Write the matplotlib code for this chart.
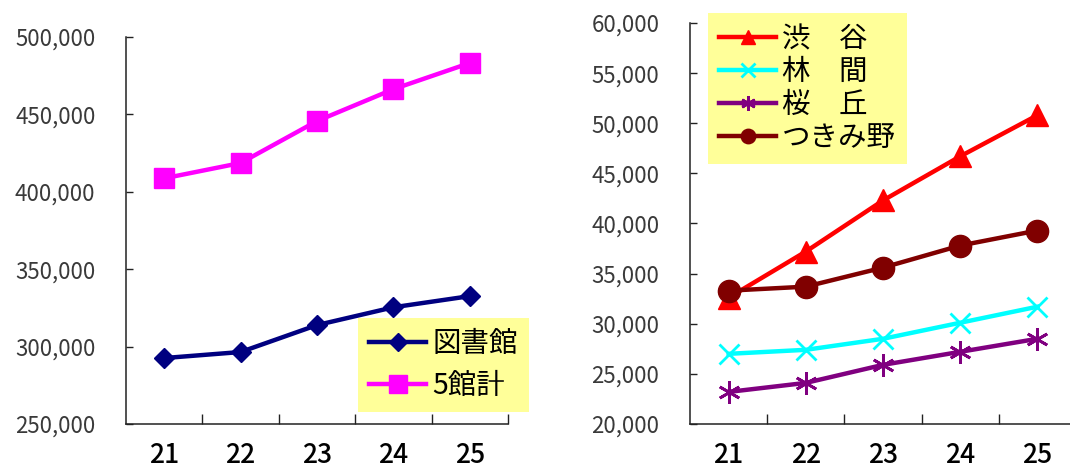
import matplotlib
matplotlib.use("Agg")
import matplotlib.pyplot as plt
from matplotlib.ticker import FixedLocator, StrMethodFormatter

plt.rcParams["font.family"] = ["Noto Sans CJK JP", "DejaVu Sans"]

years = ["21", "22", "23", "24", "25"]

# left chart
library = [292600, 296500, 313900, 325400, 332600]
total5 = [408700, 418600, 445700, 466300, 483200]

# right chart
shibuya = [32600, 37200, 42300, 46700, 50800]
rinkan = [27000, 27400, 28500, 30100, 31700]
sakuragaoka = [23200, 24100, 25900, 27200, 28500]
tsukimino = [33300, 33700, 35600, 37800, 39300]


def style_axes(ax, ymin, ymax, ystep):
    x = range(len(years))
    ax.set_xlim(-0.5, len(years) - 0.5)
    ax.set_ylim(ymin, ymax)
    ax.set_yticks(range(ymin, ymax + 1, ystep))
    ax.yaxis.set_major_formatter(StrMethodFormatter("{x:,.0f}"))
    ax.set_xticks(list(x))
    ax.set_xticklabels(years, fontweight="medium")
    ax.xaxis.set_minor_locator(FixedLocator([i + 0.5 for i in x]))
    ax.tick_params(axis="x", which="major", length=0, pad=13, labelsize=19, colors="black")
    ax.tick_params(axis="x", which="minor", direction="in", length=7, width=1, color="#222222")
    ax.tick_params(axis="y", direction="in", length=5, width=1, color="#222222",
                   pad=22, labelsize=16, labelcolor="#3a3a3a")
    for s in ["top", "right"]:
        ax.spines[s].set_visible(False)
    for s in ["left", "bottom"]:
        ax.spines[s].set_color("#222222")
        ax.spines[s].set_linewidth(1.1)


def add_legend(ax, x0, y0, spacing, mscale):
    return ax.legend(loc="upper left", bbox_to_anchor=(x0 / 1070, 1 - y0 / 470),
                     bbox_transform=fig.transFigure, borderaxespad=0,
                     prop={"size": 20.5}, frameon=True,
                     facecolor="#FFFF99", edgecolor="none", framealpha=1, fancybox=False,
                     handlelength=2.0, handletextpad=0.2, borderpad=0.4,
                     labelspacing=spacing, markerscale=mscale)


fig = plt.figure(figsize=(10.7, 4.7), dpi=100)
x = list(range(len(years)))

ax1 = fig.add_axes([126 / 1070, 1 - 424 / 470, 382 / 1070, 387 / 470])
ax1.plot(x, library, color="#000080", lw=3.2, marker="D", ms=10, label="図書館", clip_on=False)
ax1.plot(x, total5, color="#FF00FF", lw=3.2, marker="s", ms=14, label="5館計", clip_on=False)
style_axes(ax1, 250000, 500000, 50000)
add_legend(ax1, 358, 318, 0.4, 0.9)

ax2 = fig.add_axes([690 / 1070, 1 - 424 / 470, 386 / 1070, 401 / 470])
ax2.plot(x, shibuya, color="#FF0000", lw=3.2, marker="^", ms=16, label="渋　谷", clip_on=False)
ax2.plot(x, rinkan, color="#00FFFF", lw=3.2, marker="x", ms=15, mew=2, label="林　間", clip_on=False)
ax2.plot(x, sakuragaoka, color="#800080", lw=3.2, marker=(6, 2, 0), ms=16, mew=2,
         label="桜　丘", clip_on=False)
ax2.plot(x, tsukimino, color="#800000", lw=3.2, marker="o", ms=16, label="つきみ野", clip_on=False)
style_axes(ax2, 20000, 60000, 5000)
add_legend(ax2, 708, 13, 0.1, 0.65)

fig.savefig("out.png", dpi=100)
